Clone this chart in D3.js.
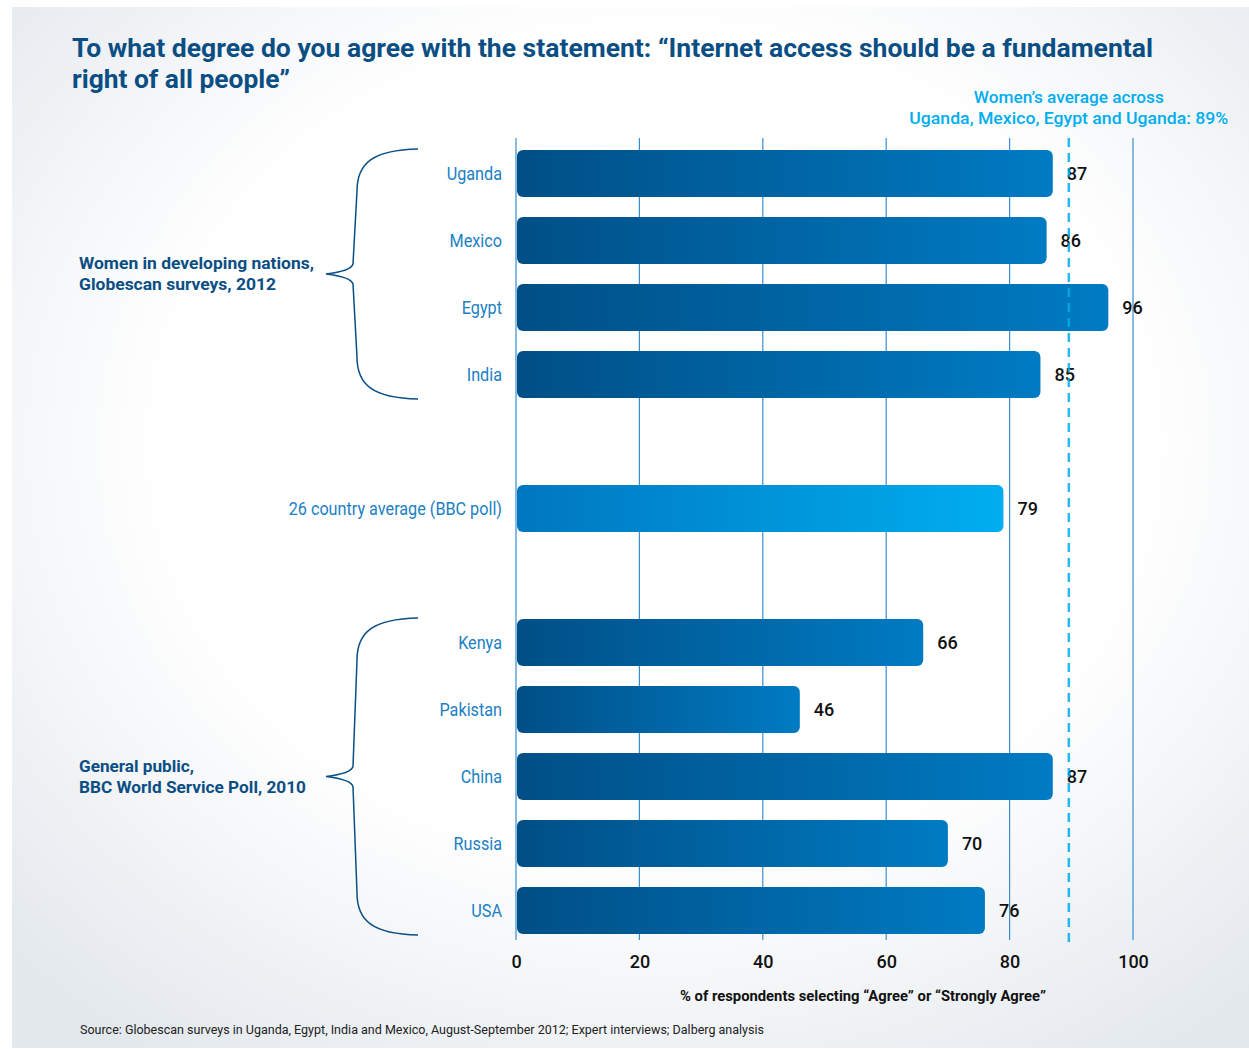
<!DOCTYPE html>
<html>
<head>
<meta charset="utf-8">
<script src="https://cdn.jsdelivr.net/npm/d3@7"></script>
<style>
  html, body { margin: 0; padding: 0; background: #ffffff; }
  svg { display: block; }
  text { font-family: Roboto, "Open Sans", "Noto Sans", sans-serif; }
</style>
</head>
<body>
<svg id="chart" width="1249" height="1049"></svg>
<script>
// ---------- data ----------
const categories = ["Uganda", "Mexico", "Egypt", "India", "26 country average (BBC poll)", "Kenya", "Pakistan", "China", "Russia", "USA"];
const values = [87, 86, 96, 85, 79, 66, 46, 87, 70, 76];
const womenGroup = ["Uganda", "Mexico", "Egypt", "India"];
const publicGroup = ["Kenya", "Pakistan", "China", "Russia", "USA"];
const averageCategory = "26 country average (BBC poll)";
const womenGroupLabel = ["Women in developing nations,", "Globescan surveys, 2012"];
const publicGroupLabel = ["General public,", "BBC World Service Poll, 2010"];
const tickValues = [0, 20, 40, 60, 80, 100];
const womenAverage = 89.6;
const womenAverageLabel = ["Women\u2019s average across", "Uganda, Mexico, Egypt and Uganda: 89%"];
const titleLines = ["To what degree do you agree with the statement: \u201CInternet access should be a fundamental", "right of all people\u201D"];
const axisTitle = "% of respondents selecting  \u201CAgree\u201D or \u201CStrongly Agree\u201D";
const sourceText = "Source: Globescan surveys in Uganda, Egypt, India and Mexico, August-September 2012; Expert interviews; Dalberg analysis";

// ---------- setup ----------
const svg = d3.select("#chart");
const W = 1249, H = 1049;
const darkBlue = "#0a4e84", midBlue = "#1b80c4", cyan = "#00aeef", gridCol = "#3a8ecf";

const defs = svg.append("defs");
const bg = defs.append("radialGradient").attr("id", "bgGrad")
  .attr("cx", "52%").attr("cy", "42%").attr("r", "72%");
bg.append("stop").attr("offset", "0%").attr("stop-color", "#ffffff");
bg.append("stop").attr("offset", "55%").attr("stop-color", "#ffffff");
bg.append("stop").attr("offset", "100%").attr("stop-color", "#e3e8ed");

const g1 = defs.append("linearGradient").attr("id", "barGrad").attr("x1", "0").attr("x2", "1").attr("y1", "0").attr("y2", "0");
g1.append("stop").attr("offset", "0%").attr("stop-color", "#004f86");
g1.append("stop").attr("offset", "100%").attr("stop-color", "#007bc3");
const g2 = defs.append("linearGradient").attr("id", "avgGrad").attr("x1", "0").attr("x2", "1").attr("y1", "0").attr("y2", "0");
g2.append("stop").attr("offset", "0%").attr("stop-color", "#0077c0");
g2.append("stop").attr("offset", "100%").attr("stop-color", "#00aeef");

svg.append("rect").attr("width", W).attr("height", H).attr("fill", "#ffffff");
svg.append("rect").attr("x", 12).attr("y", 7).attr("width", W - 12).attr("height", H - 8).attr("fill", "url(#bgGrad)");

// ---------- scales ----------
const x = d3.scaleLinear().domain([0, 100]).range([516, 1133]);
const slots = [...womenGroup, "__gap1", averageCategory, "__gap2", ...publicGroup];
const y = d3.scaleBand().domain(slots).range([140, 944]).paddingInner(0.3).paddingOuter(0.15);
const gridTop = 138, gridBottom = 940;

function fit(sel, w) {
  sel.attr("textLength", w).attr("lengthAdjust", "spacingAndGlyphs");
}
function condense(sel, k) {
  sel.each(function () {
    const t = this.getComputedTextLength();
    d3.select(this).attr("textLength", t * k).attr("lengthAdjust", "spacingAndGlyphs");
  });
}

// ---------- grid ----------
svg.append("g").selectAll("line").data(tickValues).join("line")
  .attr("x1", d => x(d)).attr("x2", d => x(d))
  .attr("y1", gridTop).attr("y2", gridBottom)
  .attr("stroke", gridCol).attr("stroke-width", 1.2);

// ---------- axis ----------
const axis = svg.append("g").attr("transform", `translate(0,${gridBottom})`)
  .call(d3.axisBottom(x).tickValues(tickValues).tickSize(0).tickPadding(15).tickFormat(d3.format("d")));
axis.select(".domain").remove();
axis.selectAll("text").attr("font-size", 18).attr("font-weight", 500).attr("fill", "#111")
  .style("font-family", "Roboto, \"Open Sans\", sans-serif");

// ---------- bars ----------
const data = categories.map((c, i) => ({ cat: c, value: values[i] }));
svg.append("g").selectAll("rect").data(data).join("rect")
  .attr("x", x(0) + 1)
  .attr("y", d => y(d.cat))
  .attr("width", d => x(d.value) - x(0) - 1)
  .attr("height", y.bandwidth())
  .attr("rx", 6).attr("ry", 6)
  .attr("fill", d => d.cat === averageCategory ? "url(#avgGrad)" : "url(#barGrad)");

// category labels
const catLabels = svg.append("g").selectAll("text").data(data).join("text")
  .attr("x", 502).attr("y", d => y(d.cat) + y.bandwidth() / 2)
  .attr("dy", "0.36em").attr("text-anchor", "end")
  .attr("font-size", 18).attr("fill", midBlue)
  .text(d => d.cat);
condense(catLabels, 0.9);

// value labels
svg.append("g").selectAll("text").data(data).join("text")
  .attr("x", d => x(d.value) + 14).attr("y", d => y(d.cat) + y.bandwidth() / 2)
  .attr("dy", "0.36em")
  .attr("font-size", 18).attr("font-weight", 500).attr("fill", "#111")
  .text(d => d.value);

// ---------- women's average dashed line ----------
svg.append("line")
  .attr("x1", x(womenAverage)).attr("x2", x(womenAverage))
  .attr("y1", gridTop).attr("y2", gridBottom + 3)
  .attr("stroke", cyan).attr("stroke-width", 2.5).attr("stroke-dasharray", "9,6")
  .attr("opacity", 0.85);

const annW = [190, 319];
womenAverageLabel.forEach((t, i) => {
  svg.append("text").attr("x", x(womenAverage)).attr("y", 103 + i * 21)
    .attr("text-anchor", "middle").attr("font-size", 17).attr("font-weight", 500)
    .attr("fill", cyan).text(t).call(fit, annW[i]);
});

// ---------- braces ----------
function bracePath(top, bottom) {
  const mid = (top + bottom) / 2;
  const xe = 418, xs = 357, xm = 353, xt = 326;
  return `M${xe},${top} C${xe - 45},${top + 1} ${xs},${top + 14} ${xs},${top + 42}` +
    ` L${xm},${mid - 10} Q${xm - 2},${mid - 3} ${xt},${mid}` +
    ` Q${xm - 2},${mid + 3} ${xm},${mid + 10}` +
    ` L${xs},${bottom - 42} C${xs},${bottom - 14} ${xe - 45},${bottom - 1} ${xe},${bottom}`;
}
[[womenGroup, womenGroupLabel, [235, 197]], [publicGroup, publicGroupLabel, [115, 227]]].forEach(([grp, lab, widths]) => {
  const top = y(grp[0]) - 1;
  const bottom = y(grp[grp.length - 1]) + y.bandwidth() + 1;
  svg.append("path").attr("d", bracePath(top, bottom))
    .attr("fill", "none").attr("stroke", darkBlue).attr("stroke-width", 1.5);
  const mid = (top + bottom) / 2;
  lab.forEach((t, i) => {
    svg.append("text").attr("x", 79).attr("y", mid - 5 + i * 21)
      .attr("font-size", 17).attr("font-weight", 700).attr("fill", darkBlue)
      .text(t).call(fit, widths[i]);
  });
});

// ---------- title ----------
const titleW = [1081, 218];
titleLines.forEach((t, i) => {
  svg.append("text").attr("x", 72).attr("y", 57 + i * 31)
    .attr("font-size", 26).attr("font-weight", 700).attr("fill", darkBlue)
    .text(t).call(fit, titleW[i]);
});

// ---------- axis title & source ----------
svg.append("text").attr("x", 680).attr("y", 1001)
  .attr("font-size", 14).attr("font-weight", 700).attr("fill", "#111")
  .text(axisTitle).call(fit, 366);
svg.append("text").attr("x", 80).attr("y", 1034)
  .attr("font-size", 12).attr("fill", "#222")
  .text(sourceText).call(fit, 684);
</script>
</body>
</html>
